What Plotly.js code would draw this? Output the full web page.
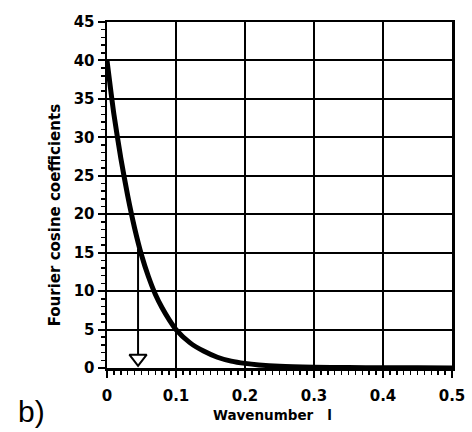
<!DOCTYPE html>
<html>
<head>
<meta charset="utf-8">
<script src="https://cdn.plot.ly/plotly-3.0.1.min.js"></script>
<style>html,body{margin:0;padding:0;background:#fff;}#chart{width:472px;height:432px;}</style>
</head>
<body>
<div id="chart"></div>
<script>
// Curve
var wavenumber = [0, 0.01, 0.02, 0.03, 0.04, 0.05, 0.06, 0.07, 0.08, 0.09, 0.10, 0.12, 0.14, 0.16, 0.18, 0.20, 0.22, 0.25, 0.30, 0.35, 0.40, 0.45, 0.50];
var coefficients = [40, 33, 27.3, 22.4, 18.2, 14.7, 11.9, 9.6, 7.8, 6.3, 5.0, 3.3, 2.2, 1.4, 0.9, 0.6, 0.4, 0.22, 0.1, 0.05, 0.03, 0.02, 0.01];
// Arrow (vertical line from curve down to the axis, open triangle head)
var arrowX = [0.045, 0.045];
var arrowY = [15.5, 1.7];
var arrowHeadX = [0.045];
var arrowHeadY = [1.24];
// Tick values and labels
var xTicks = [0, 0.1, 0.2, 0.3, 0.4, 0.5];
var xTickText = ['0', '0.1', '0.2', '0.3', '0.4', '0.5'];
var yTicks = [0, 5, 10, 15, 20, 25, 30, 35, 40, 45];
var yTickText = ['0', '5', '10', '15', '20', '25', '30', '35', '40', '45'];

var FONT = 'DejaVu Sans, Liberation Sans, Arial, sans-serif';
function bold(a) { return a.map(function (s) { return '<b>' + s + '</b>'; }); }

var traces = [
  {x: wavenumber, y: coefficients, mode: 'lines', type: 'scatter',
   line: {color: '#000', width: 5, shape: 'spline', smoothing: 0.6},
   hoverinfo: 'skip', showlegend: false, cliponaxis: false},
  {x: arrowX, y: arrowY, mode: 'lines', type: 'scatter',
   line: {color: '#000', width: 2}, hoverinfo: 'skip', showlegend: false},
  {x: arrowHeadX, y: arrowHeadY, mode: 'markers', type: 'scatter',
   marker: {symbol: 'triangle-down-open', size: 15, color: '#000', line: {color: '#000', width: 2}},
   hoverinfo: 'skip', showlegend: false, cliponaxis: false}
];

var axisCommon = {
  showline: true, linecolor: '#000', linewidth: 2.5, mirror: true,
  showgrid: true, gridcolor: '#000', gridwidth: 2,
  zeroline: false, ticks: 'outside', tickcolor: '#000', tickwidth: 2, ticklen: 7,
  tickfont: {family: FONT, size: 15, color: '#000', weight: 700},
  fixedrange: true
};

var layout = {
  width: 472, height: 432,
  margin: {l: 107, r: 20, t: 22, b: 64},
  paper_bgcolor: '#fff', plot_bgcolor: '#fff',
  showlegend: false,
  xaxis: Object.assign({}, axisCommon, {
    range: [0, 0.5], tickmode: 'array', tickvals: xTicks, ticktext: bold(xTickText),
    ticklabelstandoff: 5,
    minor: {dtick: 0.01, ticks: 'outside', ticklen: 4, tickwidth: 1.5, tickcolor: '#000', showgrid: false}
  }),
  yaxis: Object.assign({}, axisCommon, {
    range: [0, 45], tickmode: 'array', tickvals: yTicks, ticktext: bold(yTickText),
    minor: {dtick: 1, ticks: 'outside', ticklen: 4, tickwidth: 1.5, tickcolor: '#000', showgrid: false}
  }),
  annotations: [
    {text: '<b>Fourier cosine coefficients</b>', xref: 'paper', yref: 'paper', x: -0.152, y: 0.44,
     xanchor: 'center', yanchor: 'middle', textangle: -90, showarrow: false,
     font: {family: FONT, size: 15, color: '#000', weight: 700}},
    {text: '<b>Wavenumber   l</b>', xref: 'paper', yref: 'paper', x: 0.48, y: -0.136,
     xanchor: 'center', yanchor: 'middle', showarrow: false,
     font: {family: FONT, size: 13.5, color: '#000', weight: 700}},
    {text: 'b)', xref: 'paper', yref: 'paper', x: -0.22, y: -0.125,
     xanchor: 'center', yanchor: 'middle', showarrow: false,
     font: {family: 'Liberation Sans, Arial, sans-serif', size: 30, color: '#000'}}
  ]
};

Plotly.newPlot('chart', traces, layout, {staticPlot: true, displayModeBar: false});
</script>
</body>
</html>
